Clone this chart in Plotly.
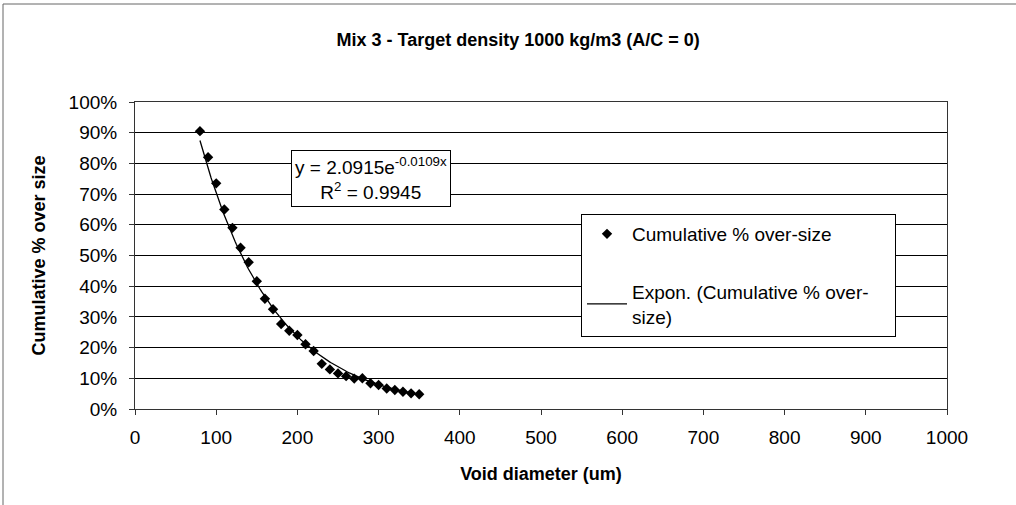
import numpy as np
import plotly.graph_objects as go

# ---- data ----
void_diameter = [80, 90, 100, 110, 120, 130, 140, 150, 160, 170, 180, 190, 200, 210,
                 220, 230, 240, 250, 260, 270, 280, 290, 300, 310, 320, 330, 340, 350]
cum_oversize = [0.905, 0.820, 0.735, 0.650, 0.590, 0.525, 0.478, 0.416, 0.359, 0.325,
                0.277, 0.255, 0.241, 0.211, 0.189, 0.147, 0.129, 0.116, 0.107, 0.099,
                0.100, 0.084, 0.078, 0.067, 0.062, 0.056, 0.051, 0.048]
fit_a = 2.0915
fit_b = -0.0109
fit_r2 = 0.9945
x_ticks = [0, 100, 200, 300, 400, 500, 600, 700, 800, 900, 1000]
y_ticks = [0, 0.1, 0.2, 0.3, 0.4, 0.5, 0.6, 0.7, 0.8, 0.9, 1.0]

FONT = "Liberation Sans, Arial, sans-serif"

fit_x = np.linspace(min(void_diameter), max(void_diameter), 200)
fit_y = fit_a * np.exp(fit_b * fit_x)

NB = "\u00a0"
fig = go.Figure()
fig.add_trace(go.Scatter(
    x=void_diameter, y=cum_oversize, mode="markers",
    name="Cumulative % over-size", legendgroup="a",
    marker=dict(symbol="diamond", size=8, color="black"),
))
fig.add_trace(go.Scatter(
    x=fit_x, y=fit_y, mode="lines",
    name="Expon. (Cumulative % over-" + NB * 4 + "<br>size)", legendgroup="b",
    line=dict(color="black", width=1.3),
))

# plot-area geometry in pixels: x 135..947, y 102..409
L, R, T, B = 135, 947, 102, 409
W, H = 1016, 505
pw, ph = R - L, B - T

fig.update_layout(
    width=W, height=H, autosize=False,
    margin=dict(l=L, r=W - R, t=T, b=H - B),
    paper_bgcolor="white", plot_bgcolor="white",
    font=dict(family=FONT, size=19, color="black"),
    title=dict(text="<b>Mix 3 - Target density 1000 kg/m3 (A/C = 0)</b>",
               x=0.51, xref="container", xanchor="center",
               y=1 - 40 / H, yref="container", yanchor="middle",
               font=dict(size=18, family=FONT)),
    showlegend=True,
    legend=dict(x=(581 - L) / pw, y=(B - 214) / ph, xanchor="left", yanchor="top",
                bgcolor="white", bordercolor="black", borderwidth=1,
                font=dict(size=19, family=FONT), tracegroupgap=30,
                itemwidth=40),
)

fig.update_xaxes(
    range=[0, 1000], tickvals=x_ticks, ticktext=[str(v) for v in x_ticks],
    showgrid=False, zeroline=False,
    showline=True, linecolor="#333", linewidth=1, mirror=True,
    ticks="outside", ticklen=5, tickcolor="#333",
    tickfont=dict(size=19), ticklabelstandoff=6,
    title=dict(text="<b>Void diameter (um)</b>", font=dict(size=18), standoff=20),
)
fig.update_yaxes(
    range=[0, 1], tickvals=y_ticks, ticktext=[f"{round(v*100)}%" for v in y_ticks],
    showgrid=True, gridcolor="black", gridwidth=1, zeroline=False,
    showline=True, linecolor="#333", linewidth=1, mirror=True,
    ticks="outside", ticklen=5, tickcolor="#333",
    tickfont=dict(size=19), ticklabelstandoff=8,
    title=dict(text="<b>Cumulative % over size</b>", font=dict(size=18), standoff=18),
)

fig.add_annotation(
    x=(371 - L) / pw, y=(B - 178.5) / ph, xref="paper", yref="paper",
    xanchor="center", yanchor="middle", showarrow=False, align="center",
    text=f"y = {fit_a}e<sup>{fit_b}x</sup><br>R<sup>2</sup> = {fit_r2}",
    font=dict(size=19, family=FONT),
    bgcolor="white", bordercolor="black", borderwidth=1, borderpad=3,
)

# outer chart frame (left and top edges visible)
fig.add_shape(type="line", xref="paper", yref="paper",
              x0=(3 - L) / pw, x1=(3 - L) / pw, y0=(B - H - 5) / ph, y1=(B - 4) / ph,
              line=dict(color="#666", width=1))
fig.add_shape(type="line", xref="paper", yref="paper",
              x0=(3 - L) / pw, x1=(W + 5 - L) / pw, y0=(B - 4) / ph, y1=(B - 4) / ph,
              line=dict(color="#666", width=1))

fig.write_html("out.html")
